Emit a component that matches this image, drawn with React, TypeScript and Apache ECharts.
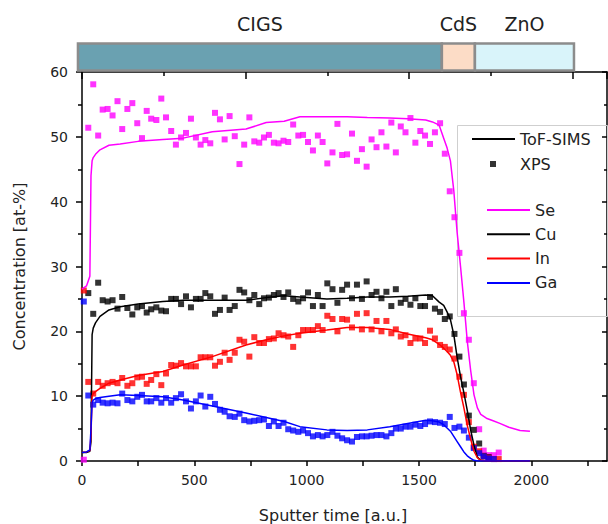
import React, { useEffect, useRef } from 'react';
import * as echarts from 'echarts';

// ---- layer bar (top) ----
const layerNames = ['CIGS', 'CdS', 'ZnO'];
const layerStart = [-18, 1602, 1749];
const layerEnd = [1602, 1749, 2190];
const layerColors = ['#6aa1b1', '#fcdcc6', '#d9f4fa'];

// ---- ToF-SIMS profiles ----
const tofTime = [0, 20, 35, 40, 45, 50, 60, 80, 120, 170, 250, 360, 450, 580, 730, 820, 900, 970, 1090, 1180, 1270, 1370, 1450, 1530, 1560, 1590, 1610, 1625, 1640, 1655, 1670, 1685, 1700, 1715, 1730, 1745, 1760, 1775, 1800, 1830, 1860, 1900, 1950, 1994];
const tofSe = [26.5, 27.0, 28.5, 44.0, 46.3, 46.8, 47.3, 48.0, 48.7, 48.9, 49.3, 49.6, 49.8, 50.8, 51.2, 52.2, 52.4, 53.1, 53.1, 53.1, 53.0, 52.9, 52.8, 52.6, 52.3, 51.8, 49.8, 48.3, 46.3, 41.7, 35.2, 30.0, 24.5, 18.5, 14.0, 10.2, 8.2, 7.2, 6.6, 6.2, 5.8, 5.2, 4.7, 4.6];
const tofCu = [1.3, 1.3, 1.5, 3.0, 19.5, 20.5, 21.3, 22.3, 23.3, 23.8, 24.2, 24.6, 24.8, 24.8, 24.8, 25.2, 25.5, 25.3, 25.0, 25.1, 25.3, 25.3, 25.4, 25.6, 25.5, 24.5, 24.0, 23.0, 21.8, 19.5, 16.0, 13.0, 10.5, 7.8, 4.8, 2.4, 0.6, 0.1, 0, 0, 0, 0, 0, 0];
const tofIn = [1.3, 1.4, 1.6, 4.0, 10.0, 10.4, 10.7, 11.2, 12.0, 12.5, 13.2, 13.8, 14.8, 16.1, 17.9, 18.7, 19.3, 19.7, 20.2, 20.6, 20.6, 20.3, 19.6, 19.0, 18.7, 18.0, 17.4, 16.9, 16.3, 15.3, 13.3, 10.6, 8.2, 5.5, 3.4, 1.5, 0.5, 0.1, 0, 0, 0, 0, 0, 0];
const tofGa = [1.3, 1.4, 1.7, 5.0, 9.0, 9.4, 9.6, 9.8, 10.0, 10.2, 10.1, 9.9, 9.4, 8.5, 7.4, 6.7, 6.1, 5.3, 4.8, 4.7, 4.8, 5.3, 5.8, 6.3, 6.2, 6.0, 5.6, 5.1, 4.6, 3.8, 3.0, 2.2, 1.4, 0.8, 0.4, 0.1, 0, 0, 0, 0, 0, 0, 0, 0];

// ---- XPS points ----
const xpsTime = [8, 28, 50, 72, 92, 114, 136, 158, 179, 202, 224, 246, 267, 288, 308, 331, 353, 374, 397, 418, 441, 463, 485, 507, 528, 549, 571, 592, 614, 635, 657, 680, 701, 722, 745, 767, 789, 810, 832, 854, 875, 897, 918, 940, 963, 984, 1006, 1028, 1050, 1071, 1092, 1115, 1137, 1158, 1180, 1202, 1224, 1246, 1267, 1289, 1311, 1333, 1355, 1377, 1397, 1419, 1440, 1462, 1484, 1506, 1527, 1549, 1571, 1594, 1615, 1637, 1658, 1680, 1700, 1722, 1744, 1768, 1788, 1810, 1833, 1855];
const xpsSe = [0.2, 51.4, 58.1, 50.2, 54.2, 54.3, 53.3, 55.5, 51.2, 54.3, 55.2, 52.1, 49.8, 54.0, 52.8, 52.6, 55.9, 53.0, 50.9, 48.8, 49.9, 50.6, 52.8, 49.9, 48.8, 49.5, 49.0, 53.7, 52.7, 49.6, 53.2, 50.1, 45.8, 48.8, 53.0, 49.3, 49.1, 49.9, 50.3, 49.1, 49.0, 49.4, 49.2, 51.9, 50.2, 50.3, 49.2, 47.9, 50.2, 49.2, 45.9, 47.6, 52.0, 47.2, 47.3, 50.5, 46.3, 48.1, 45.4, 49.6, 48.4, 50.7, 48.5, 52.2, 47.6, 51.6, 50.7, 52.9, 49.1, 50.9, 50.2, 48.9, 50.7, 52.1, 47.4, 41.6, 37.6, 32.1, 22.8, 18.7, 12.0, 4.9, 1.6, 0.9, 0.9, 1.3];
const xpsCu = [null, 25.9, 22.7, 27.5, 24.8, 24.6, 24.8, 23.5, 25.3, 23.6, 22.6, 23.7, 23.9, 22.9, 23.4, 23.7, 23.2, 23.1, 25.0, 25.0, 24.2, 25.4, 23.7, 25.0, 25.0, 25.9, 25.4, 22.7, 23.3, 25.2, 23.3, 23.9, 26.4, 26.0, 24.8, 25.6, 24.2, 25.1, 25.2, 25.6, 25.9, 25.3, 26.0, 25.0, 24.6, 25.1, 26.0, 23.9, 25.6, 23.9, 27.4, 26.5, 24.4, 26.4, 27.2, 25.1, 27.2, 25.0, 27.7, 25.6, 26.1, 25.1, 26.1, 23.9, 26.5, 24.4, 25.0, 24.1, 25.1, 23.9, 23.9, 25.3, 23.5, 23.0, 21.9, 22.3, 19.6, 16.1, 11.8, 7.0, 4.8, 2.7, 0.8, 0.6, null, null];
const xpsIn = [26.3, 12.2, 10.4, 12.2, 11.6, 12.0, 12.2, 12.0, 12.8, 11.6, 12.0, 12.9, 13.0, 11.9, 12.5, 13.4, 11.7, 13.5, 14.8, 14.7, 15.1, 14.6, 14.6, 14.6, 16.0, 16.0, 16.0, 14.7, 15.3, 16.7, 15.6, 16.7, 18.7, 18.4, 16.1, 19.1, 18.2, 18.2, 18.8, 18.9, 19.7, 19.4, 19.2, 17.6, 19.4, 20.2, 20.2, 20.2, 20.8, 20.2, 22.4, 21.9, 20.0, 21.9, 21.8, 20.6, 22.7, 20.3, 22.8, 20.3, 21.6, 20.0, 21.6, 19.7, 20.3, 19.2, 19.4, 18.2, 18.9, 18.9, 18.2, 20.1, 18.9, 17.9, 17.6, 17.2, 15.8, 13.0, 10.2, 6.0, 2.2, 1.5, 0.7, 0.5, 0.3, 0.3];
const xpsGa = [24.6, 10.1, 8.7, 9.4, 9.0, 8.9, 9.0, 8.9, 10.4, 9.4, 9.2, 9.9, 10.2, 9.2, 9.2, 9.7, 9.0, 9.7, 9.0, 9.7, 10.3, 9.2, 8.1, 9.2, 10.1, 8.4, 9.9, 8.8, 7.9, 7.6, 6.9, 6.8, 7.3, 6.3, 6.1, 6.2, 6.3, 6.4, 5.4, 6.1, 5.4, 5.9, 4.9, 4.7, 4.5, 4.7, 4.3, 3.8, 4.0, 3.8, 4.0, 4.5, 3.9, 3.5, 3.2, 3.0, 3.7, 3.8, 3.8, 3.9, 4.0, 4.0, 3.8, 4.3, 5.0, 5.0, 5.3, 5.3, 5.6, 5.4, 5.7, 6.1, 6.0, 5.9, 5.7, 6.8, 5.1, 5.3, 4.7, 3.6, 2.0, 1.2, 0.7, 0.4, 0.3, null];

const elements = ['Se', 'Cu', 'In', 'Ga'];
const elementColors = ['#ff00ff', '#000000', '#ff0000', '#0000ff'];
const tofValues = [tofSe, tofCu, tofIn, tofGa];
const xpsValues = [xpsSe, xpsCu, xpsIn, xpsGa];

const FONT = 'DejaVu Sans';
const TXT = '#222222';

function buildOption(): any {
  const axisLineStyle = { color: '#000', width: 1.5 };
  const scatterSeries = elements.map((el, k) => ({
    type: 'scatter',
    name: el + ' XPS',
    symbol: 'rect',
    symbolSize: 6,
    itemStyle: { color: elementColors[k] },
    data: xpsTime
      .map((t, i) => [t, xpsValues[k][i]])
      .filter((p) => p[1] !== null && p[1] !== undefined),
    z: 2,
  }));
  const lineSeries = elements.map((el, k) => ({
    type: 'line',
    name: el,
    symbol: 'none',
    lineStyle: { color: elementColors[k], width: 1.5 },
    itemStyle: { color: elementColors[k] },
    data: tofTime.map((t, i) => [t, tofValues[k][i]]),
    z: 3,
  }));
  return {
    animation: false,
    textStyle: { fontFamily: FONT },
    grid: { left: 82, top: 72, right: 1, bottom: 63, containLabel: false, outerBoundsMode: 'none' },
    xAxis: [
      {
        type: 'value',
        min: 0,
        max: 2337,
        interval: 250,
        position: 'bottom',
        axisLine: { show: true, onZero: false, lineStyle: axisLineStyle },
        axisTick: { show: true, length: 5, lineStyle: axisLineStyle },
        splitLine: { show: false },
        axisLabel: {
          fontSize: 14,
          color: TXT,
          fontFamily: FONT,
          margin: 12,
          showMaxLabel: false,
          formatter: (v: number) => (v % 500 === 0 ? String(v) : ''),
        },
        name: 'Sputter time [a.u.]',
        nameLocation: 'middle',
        nameGap: 46,
        nameTextStyle: { fontSize: 16, color: TXT, fontFamily: FONT, padding: [0, 23, 0, 0] },
      },
      {
        type: 'value',
        min: 0,
        max: 3.209,
        interval: 1,
        position: 'top',
        axisLine: { show: true, onZero: false, lineStyle: axisLineStyle },
        axisTick: { show: true, inside: true, length: 7, lineStyle: axisLineStyle },
        minorTick: { show: true, splitNumber: 2, length: 4, lineStyle: axisLineStyle },
        axisLabel: { show: false },
        splitLine: { show: false },
      },
    ],
    yAxis: [
      {
        type: 'value',
        min: 0,
        max: 60,
        interval: 10,
        position: 'left',
        axisLine: { show: true, onZero: false, lineStyle: axisLineStyle },
        axisTick: { show: true, length: 6, lineStyle: axisLineStyle },
        minorTick: { show: true, splitNumber: 2, length: 4, lineStyle: axisLineStyle },
        splitLine: { show: false },
        axisLabel: { fontSize: 14, color: TXT, fontFamily: FONT, margin: 14 },
        name: 'Concentration [at-%]',
        nameLocation: 'middle',
        nameGap: 55,
        nameTextStyle: { fontSize: 16, color: TXT, fontFamily: FONT },
      },
      {
        type: 'value',
        min: 0,
        max: 60,
        interval: 10,
        position: 'right',
        axisLine: { show: true, onZero: false, lineStyle: axisLineStyle },
        axisTick: { show: true, inside: true, length: 5, lineStyle: axisLineStyle },
        minorTick: { show: true, splitNumber: 2, length: 3, lineStyle: axisLineStyle },
        splitLine: { show: false },
        axisLabel: { show: false },
      },
    ],
    legend: [
      {
        data: [{ name: 'ToF-SIMS', icon: 'rect' }],
        left: 472,
        top: 131,
        padding: 0,
        itemWidth: 43,
        itemHeight: 2,
        selectedMode: false,
        textStyle: { fontSize: 16, color: TXT, fontFamily: FONT },
      },
      {
        data: [{ name: 'XPS', icon: 'rect' }],
        left: 490,
        top: 156,
        padding: 0,
        itemWidth: 6,
        itemHeight: 6,
        selectedMode: false,
        textStyle: { fontSize: 16, color: TXT, fontFamily: FONT, padding: [0, 0, 0, 19] },
      },
      {
        data: elements.map((name) => ({ name, icon: 'rect' })),
        orient: 'vertical',
        left: 487,
        top: 202,
        padding: 0,
        itemWidth: 43,
        itemHeight: 2,
        itemGap: 8.3,
        selectedMode: false,
        textStyle: { fontSize: 16, color: TXT, fontFamily: FONT },
      },
    ],
    graphic: [
      {
        type: 'rect',
        shape: { x: 457.5, y: 125.5, width: 150, height: 191 },
        style: { fill: 'none', stroke: '#cfcfcf', lineWidth: 1 },
        silent: true,
        z: 1,
      },
    ],
    series: [
      {
        type: 'custom',
        name: 'layers',
        clip: false,
        silent: true,
        xAxisIndex: 0,
        yAxisIndex: 0,
        data: layerStart.map((s, i) => [s, layerEnd[i], i]),
        encode: { x: [0, 1] },
        renderItem: (params: any, api: any) => {
          const i = params.dataIndex;
          const x0 = api.coord([api.value(0), 0])[0];
          const x1 = api.coord([api.value(1), 0])[0];
          const top = params.coordSys.y;
          return {
            type: 'group',
            children: [
              {
                type: 'rect',
                shape: { x: x0, y: top - 28.5, width: x1 - x0, height: 27 },
                style: { fill: layerColors[i], stroke: '#8c8c8c', lineWidth: 2.5 },
              },
              {
                type: 'text',
                style: {
                  text: layerNames[i],
                  x: (x0 + x1) / 2,
                  y: top - 48,
                  align: 'center',
                  verticalAlign: 'middle',
                  fill: TXT,
                  fontSize: 19,
                  fontFamily: FONT,
                },
              },
            ],
          };
        },
        z: 5,
      },
      {
        type: 'line',
        name: 'ToF-SIMS',
        symbol: 'none',
        lineStyle: { color: '#000', width: 1.5 },
        itemStyle: { color: '#000' },
        data: [],
      },
      {
        type: 'scatter',
        name: 'XPS',
        symbol: 'rect',
        symbolSize: 6,
        itemStyle: { color: '#000' },
        data: [],
      },
      ...scatterSeries,
      ...lineSeries,
    ],
  };
}

export default function App() {
  const ref = useRef<HTMLDivElement>(null);
  useEffect(() => {
    if (!ref.current) return;
    const chart = echarts.init(ref.current, null, { renderer: 'svg' });
    chart.setOption(buildOption());
    return () => chart.dispose();
  }, []);
  return (
    <div
      ref={ref}
      style={{ position: 'fixed', left: 0, top: 0, width: 608, height: 524, background: '#fff' }}
    />
  );
}
